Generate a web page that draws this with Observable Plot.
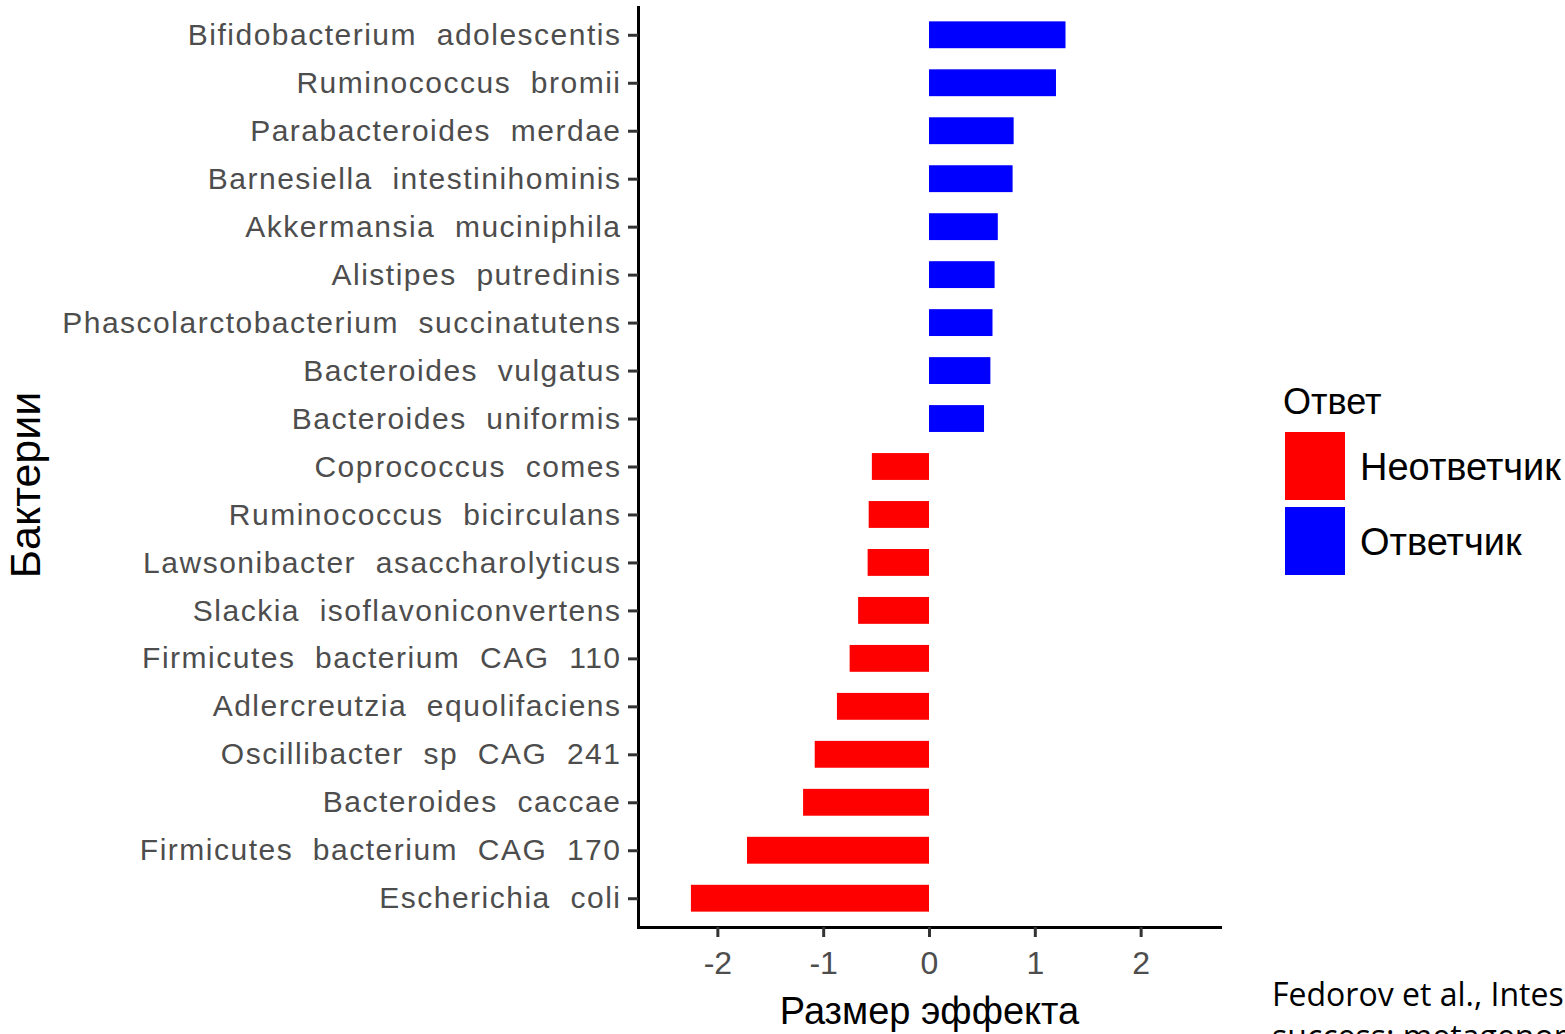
<!DOCTYPE html>
<html>
<head>
<meta charset="utf-8">
<script src="https://cdn.jsdelivr.net/npm/d3@7"></script>
<script src="https://cdn.jsdelivr.net/npm/@observablehq/plot@0.6"></script>
<style>
  html, body { margin: 0; padding: 0; background: #fff; overflow: hidden; width: 1565px; height: 1034px; }
  #wrap { position: relative; width: 1565px; height: 1034px; font-family: "Liberation Sans", Arial, sans-serif; }
  #chart { position: absolute; left: 0; top: 0; }
  g[aria-label="y-axis tick label"] text { letter-spacing: 1.5px; }
  .abs { position: absolute; white-space: nowrap; line-height: 1; }
</style>
</head>
<body>
<div id="wrap">
  <div id="chart"></div>
  <div id="legend"></div>
  <div class="abs" id="caption" style="left:1272px; top:973px; font-family:'Open Sans', sans-serif; font-size:32px; line-height:42px; color:#000;"></div>
</div>
<script>
// ---- data ----
const bacteria = [
  "Bifidobacterium  adolescentis",
  "Ruminococcus  bromii",
  "Parabacteroides  merdae",
  "Barnesiella  intestinihominis",
  "Akkermansia  muciniphila",
  "Alistipes  putredinis",
  "Phascolarctobacterium  succinatutens",
  "Bacteroides  vulgatus",
  "Bacteroides  uniformis",
  "Coprococcus  comes",
  "Ruminococcus  bicirculans",
  "Lawsonibacter  asaccharolyticus",
  "Slackia  isoflavoniconvertens",
  "Firmicutes  bacterium  CAG  110",
  "Adlercreutzia  equolifaciens",
  "Oscillibacter  sp  CAG  241",
  "Bacteroides  caccae",
  "Firmicutes  bacterium  CAG  170",
  "Escherichia  coli"
];
const effectSize = [1.29, 1.20, 0.80, 0.79, 0.65, 0.62, 0.60, 0.58, 0.52,
  -0.54, -0.57, -0.58, -0.67, -0.75, -0.87, -1.08, -1.19, -1.72, -2.25];
const responseGroups = ["Неответчик", "Ответчик"];
const groupColors = ["#FF0000", "#0000FF"];
const xTicks = [-2, -1, 0, 1, 2];
const xLimits = [-2.75, 2.75];
const xTitle = "Размер эффекта";
const yTitle = "Бактерии";
const legendTitle = "Ответ";
const captionLines = ["Fedorov et al., Intes", "success: metagenom"];

const data = bacteria.map((name, i) => ({
  name,
  value: effectSize[i],
  group: effectSize[i] < 0 ? responseGroups[0] : responseGroups[1]
}));

const chart = Plot.plot({
  width: 1565,
  height: 1034,
  marginLeft: 638,
  marginRight: 345,
  marginTop: 6,
  marginBottom: 107,
  style: { fontFamily: "'Liberation Sans', Arial, sans-serif", background: "white" },
  x: { domain: xLimits, ticks: xTicks },
  y: { type: "band", domain: bacteria, paddingInner: 0.44, paddingOuter: 0.32, round: false },
  color: { domain: responseGroups, range: groupColors },
  marks: [
    Plot.barX(data, { x: "value", y: "name", fill: "group" }),
    Plot.ruleX([xLimits[0]], { stroke: "black", strokeWidth: 3 }),
    Plot.frame({ anchor: "bottom", stroke: "black", strokeWidth: 3 }),
    Plot.axisY({ tickSize: 10, tickPadding: 7, fontSize: 30, stroke: "#333", strokeWidth: 3, fill: "#4d4d4d", label: null }),
    Plot.axisX({ ticks: xTicks, tickSize: 10, tickPadding: 14, fontSize: 32, stroke: "#333", strokeWidth: 3, fill: "#4d4d4d", tickFormat: d => String(d), label: null }),
    Plot.text([xTitle], { frameAnchor: "bottom", dy: 84, fontSize: 38, fill: "black", lineAnchor: "middle", textAnchor: "middle" }),
    Plot.text([yTitle], { frameAnchor: "left", dx: -612, dy: 18, rotate: -90, fontSize: 43, fill: "black", lineAnchor: "middle", textAnchor: "middle" })
  ]
});
document.getElementById("chart").appendChild(chart);

// legend
const legend = document.getElementById("legend");
const title = document.createElement("div");
title.className = "abs";
title.textContent = legendTitle;
Object.assign(title.style, { left: "1283px", top: "384px", fontSize: "36px", color: "#000" });
legend.appendChild(title);
const keyTops = [432, 507];
responseGroups.forEach((g, i) => {
  const key = document.createElement("div");
  key.className = "abs";
  Object.assign(key.style, { left: "1285px", top: keyTops[i] + "px", width: "60px", height: "68px", background: groupColors[i] });
  legend.appendChild(key);
  const lab = document.createElement("div");
  lab.className = "abs";
  lab.textContent = g;
  Object.assign(lab.style, { left: "1360px", top: (keyTops[i] + 16) + "px", fontSize: "38px", color: "#000" });
  legend.appendChild(lab);
});

document.getElementById("caption").innerHTML = captionLines.join("<br>");
</script>
</body>
</html>
